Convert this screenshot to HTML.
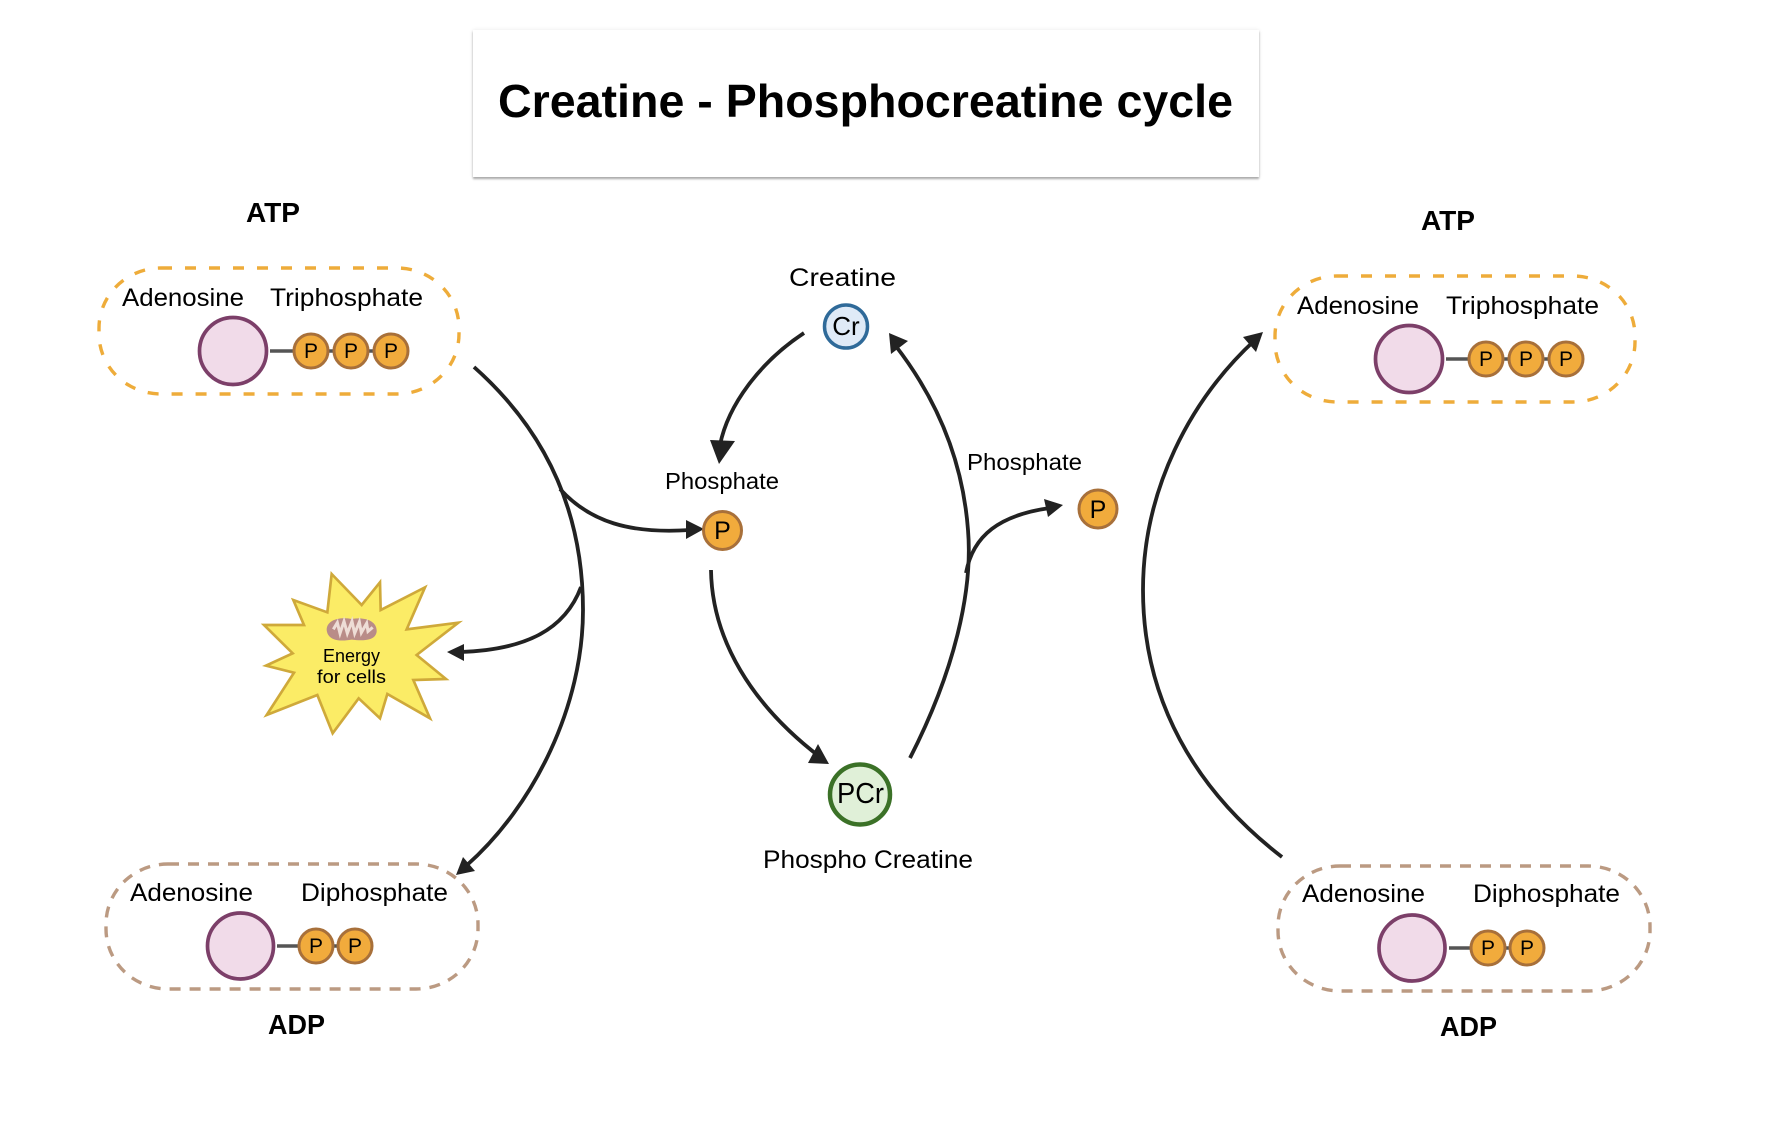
<!DOCTYPE html>
<html><head><meta charset="utf-8"><title>Creatine - Phosphocreatine cycle</title>
<style>
html,body{margin:0;padding:0;background:#fff;width:1780px;height:1122px;overflow:hidden}
#t{position:absolute;left:473px;top:30px;width:786px;height:147px;background:#fff;box-shadow:0 2px 2px #aaa,0 0 4px #e8e8e8}
svg{position:absolute;left:0;top:0}
text{font-family:"Liberation Sans",sans-serif;fill:#000}
.l{font-size:25px}.b{font-size:28px;font-weight:bold}.p{font-size:21px;text-anchor:middle}
.a{fill:none;stroke:#222;stroke-width:3.8}.h{fill:#222}
.pc{fill:#f1ab3c;stroke:#a8703a;stroke-width:3}
.ad{fill:#f1dbe9;stroke:#7c3f69;stroke-width:3.7}
.ln{stroke:#555;stroke-width:3.4}
.d1{fill:none;stroke:#eeac3a;stroke-width:3.4;stroke-dasharray:11 13}
.d2{fill:none;stroke:#bb9a82;stroke-width:3.4;stroke-dasharray:11 9}
</style></head><body>
<div id="t"></div>
<svg width="1780" height="1122" viewBox="0 0 1780 1122" xmlns="http://www.w3.org/2000/svg">
<text x="498" y="117" font-size="46" font-weight="bold" textLength="735" lengthAdjust="spacingAndGlyphs">Creatine - Phosphocreatine cycle</text>

<!-- Left ATP -->
<text class="b" x="246" y="222" textLength="54" lengthAdjust="spacingAndGlyphs">ATP</text>
<rect class="d1" x="99" y="268" width="360" height="126" rx="62" ry="60"/>
<text class="l" x="122" y="306" textLength="122" lengthAdjust="spacingAndGlyphs">Adenosine</text>
<text class="l" x="270" y="306" textLength="153" lengthAdjust="spacingAndGlyphs">Triphosphate</text>
<line class="ln" x1="270" y1="351" x2="380" y2="351"/>
<circle class="ad" cx="233" cy="351" r="33.5"/>
<circle class="pc" cx="311" cy="351" r="17"/><circle class="pc" cx="351" cy="351" r="17"/><circle class="pc" cx="391" cy="351" r="17"/>
<text class="p" x="311" y="358">P</text><text class="p" x="351" y="358">P</text><text class="p" x="391" y="358">P</text>

<!-- Right ATP -->
<text class="b" x="1421" y="230" textLength="54" lengthAdjust="spacingAndGlyphs">ATP</text>
<rect class="d1" x="1275" y="276" width="360" height="126" rx="62" ry="60"/>
<text class="l" x="1297" y="314" textLength="122" lengthAdjust="spacingAndGlyphs">Adenosine</text>
<text class="l" x="1446" y="314" textLength="153" lengthAdjust="spacingAndGlyphs">Triphosphate</text>
<line class="ln" x1="1446" y1="359" x2="1556" y2="359"/>
<circle class="ad" cx="1409" cy="359" r="33.5"/>
<circle class="pc" cx="1486" cy="359" r="17"/><circle class="pc" cx="1526" cy="359" r="17"/><circle class="pc" cx="1566" cy="359" r="17"/>
<text class="p" x="1486" y="366">P</text><text class="p" x="1526" y="366">P</text><text class="p" x="1566" y="366">P</text>

<!-- Left ADP -->
<rect class="d2" x="106" y="864" width="372" height="125" rx="62" ry="60"/>
<text class="l" x="130" y="901" textLength="123" lengthAdjust="spacingAndGlyphs">Adenosine</text>
<text class="l" x="301" y="901" textLength="147" lengthAdjust="spacingAndGlyphs">Diphosphate</text>
<line class="ln" x1="277" y1="946" x2="345" y2="946"/>
<circle class="ad" cx="240.5" cy="946" r="33"/>
<circle class="pc" cx="316" cy="946" r="17"/><circle class="pc" cx="355" cy="946" r="17"/>
<text class="p" x="316" y="953">P</text><text class="p" x="355" y="953">P</text>
<text class="b" x="268" y="1034" textLength="57" lengthAdjust="spacingAndGlyphs">ADP</text>

<!-- Right ADP -->
<rect class="d2" x="1278" y="866" width="372" height="125" rx="62" ry="60"/>
<text class="l" x="1302" y="902" textLength="123" lengthAdjust="spacingAndGlyphs">Adenosine</text>
<text class="l" x="1473" y="902" textLength="147" lengthAdjust="spacingAndGlyphs">Diphosphate</text>
<line class="ln" x1="1449" y1="948" x2="1517" y2="948"/>
<circle class="ad" cx="1412" cy="948" r="33"/>
<circle class="pc" cx="1488" cy="948" r="17"/><circle class="pc" cx="1527" cy="948" r="17"/>
<text class="p" x="1488" y="955">P</text><text class="p" x="1527" y="955">P</text>
<text class="b" x="1440" y="1036" textLength="57" lengthAdjust="spacingAndGlyphs">ADP</text>

<!-- Energy burst -->
<g transform="translate(240,540) scale(.33333)">
<polygon points="275,102 365,195 420,127 422,210 555,142 500,268 655,248 530,345 618,417 520,420 570,535 442,462 420,535 356,475 278,580 232,465 80,525 162,398 78,377 158,340 72,255 192,255 160,180 262,217" fill="#fbec66" stroke="#cfa93a" stroke-width="8" stroke-linejoin="miter"/>
<path d="M260 270 C260 240 298 230 335 237 C375 230 412 243 410 275 C407 300 375 304 335 299 C295 306 263 300 260 270Z" fill="#b98c88"/>
<path d="M280 268 L292 248 L300 280 L312 244 L322 280 L336 244 L344 280 L358 246 L364 278 L380 250 L384 274 L398 262" fill="none" stroke="#eeddd6" stroke-width="9"/>
</g>
<text x="323" y="662" font-size="18.5" textLength="57" lengthAdjust="spacingAndGlyphs">Energy</text>
<text x="317" y="683" font-size="18.5" textLength="69" lengthAdjust="spacingAndGlyphs">for cells</text>

<!-- Connectors -->
<path class="a" d="M474 367 C545 430 583 510 583 610 C583 705 535 805 466 866"/>
<polygon class="h" points="456,875 463,857 475,871"/>
<path class="a" d="M560 489 C590 522 630 534 690 530"/>
<polygon class="h" points="704,529 686,520 686,539"/>
<path class="a" d="M581 587 C565 630 525 650 460 652"/>
<polygon class="h" points="447,652 464,644 464,661"/>
<path class="a" d="M804 333 C760 362 728 405 720 445"/>
<polygon class="h" points="719,464 710,440 735,441"/>
<path class="a" d="M711 570 C712 640 752 705 820 757"/>
<polygon class="h" points="829,764 808,763 818,744"/>
<path class="a" d="M910 758 C955 670 973 590 968 530 C962 450 930 390 895 345"/>
<polygon class="h" points="889,333 891,354 908,341"/>
<path class="a" d="M966 573 C973 535 1000 515 1050 508"/>
<polygon class="h" points="1063,505 1044,499 1048,517"/>
<path class="a" d="M1282 857 C1195 790 1143 700 1143 590 C1143 490 1190 400 1255 340"/>
<polygon class="h" points="1263,332 1243,337 1256,352"/>

<!-- Central nodes -->
<text class="l" x="789" y="286" textLength="107" lengthAdjust="spacingAndGlyphs">Creatine</text>
<circle cx="846" cy="326.5" r="21.5" fill="#dfeaf7" stroke="#2f6a99" stroke-width="3.5"/>
<text x="846" y="335" font-size="26" text-anchor="middle">Cr</text>
<text x="665" y="489" font-size="23" textLength="114" lengthAdjust="spacingAndGlyphs">Phosphate</text>
<circle class="pc" cx="722.5" cy="530.5" r="19"/>
<text x="722.5" y="539" font-size="25" text-anchor="middle">P</text>
<text x="967" y="470" font-size="23" textLength="115" lengthAdjust="spacingAndGlyphs">Phosphate</text>
<circle class="pc" cx="1098" cy="509" r="19"/>
<text x="1098" y="518" font-size="25" text-anchor="middle">P</text>
<circle cx="860" cy="794.5" r="30" fill="#e0f0d8" stroke="#3b7127" stroke-width="4.5"/>
<text x="837" y="803" font-size="29" textLength="47" lengthAdjust="spacingAndGlyphs">PCr</text>
<text class="l" x="763" y="868" textLength="210" lengthAdjust="spacingAndGlyphs">Phospho Creatine</text>
</svg>
</body></html>
